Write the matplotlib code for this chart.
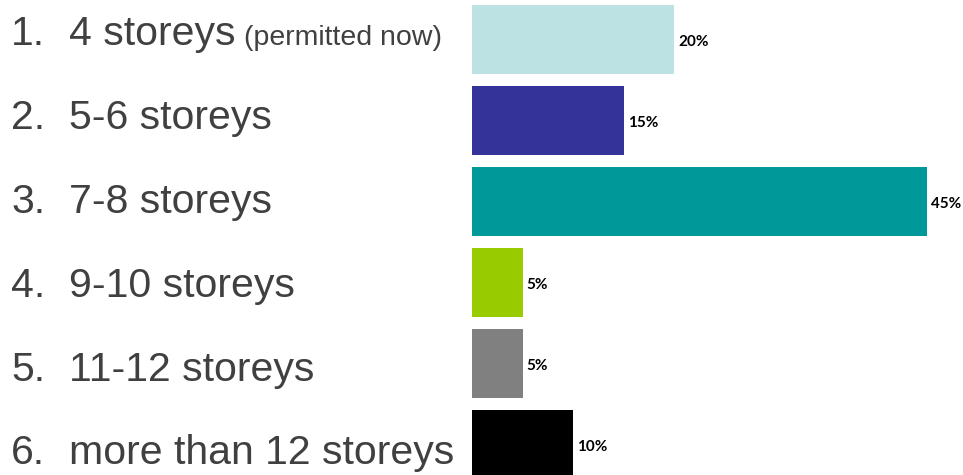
import matplotlib
matplotlib.use("Agg")
from matplotlib import pyplot as plt

# data
numbers = ["1.", "2.", "3.", "4.", "5.", "6."]
labels = ["4 storeys", "5-6 storeys", "7-8 storeys", "9-10 storeys",
          "11-12 storeys", "more than 12 storeys"]
notes = ["(permitted now)", "", "", "", "", ""]
values = [20, 15, 45, 5, 5, 10]
colors = ["#BDE2E4", "#333399", "#009999", "#99CC00", "#808080", "#000000"]

W, H = 963, 475
fig = plt.figure(figsize=(W/100., H/100.), dpi=100)

# bars axis on the right half
ax = fig.add_axes([472./W, 0, 1 - 472./W, 1])
ypos = list(range(len(values)))
ax.barh(ypos, values, height=0.84, color=colors)
ax.set_xlim(0, (W - 472) / 10.1)
ax.set_ylim((H - 39.5) / 81., -39.5 / 81.)
ax.axis('off')

for y, v in zip(ypos, values):
    ax.annotate("%d%%" % v, xy=(v, y), xytext=(3, -1.5), textcoords='offset points',
                ha='left', va='center', fontsize=11, fontweight='bold',
                family='Lato', color='black')

# labels on the left
txt = '#404040'
for i in range(len(labels)):
    base = 1 - (45 + 83.9*i) / H
    fig.text(11./W, base, numbers[i], fontsize=29.5, family='Liberation Sans',
             color=txt, va='baseline', ha='left')
    fig.text(69./W, base, labels[i], fontsize=29.5, family='Liberation Sans',
             color=txt, va='baseline', ha='left')
    if notes[i]:
        fig.text(244./W, base, notes[i], fontsize=20.5, family='Liberation Sans',
                 color=txt, va='baseline', ha='left')

fig.savefig('out.png', dpi=100)
